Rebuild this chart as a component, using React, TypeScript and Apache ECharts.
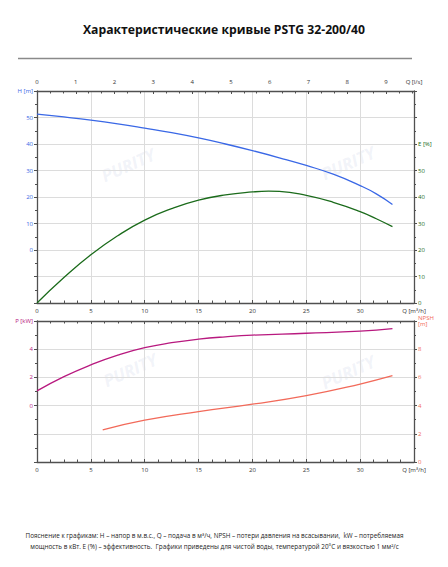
import React, { useEffect, useRef } from "react";
import * as echarts from "echarts";

const TITLE = "Характеристические кривые PSTG 32-200/40";
const NOTE_1 =
  "Пояснение к графикам: H – напор в м.в.с., Q – подача в м³/ч, NPSH – потери давления на всасывании,  kW – потребляемая";
const NOTE_2 =
  "мощность в кВт. E (%) – эффективность.  Графики приведены для чистой воды, температурой 20°C и вязкостью 1 мм²/с";

// Flow Q [m³/h] and curve values
const qHead = [0, 2.5, 5, 7.5, 10, 12.5, 15, 17.5, 20, 22.5, 25, 27.5, 30, 31.5, 33];
const headH = [51.3, 50.2, 49.0, 47.6, 46.0, 44.3, 42.3, 40.0, 37.5, 34.8, 31.9, 28.6, 24.3, 21.2, 17.2];

const qEff = [0, 2.5, 5, 7.5, 10, 12.5, 15, 17.5, 20, 21.5, 22.5, 25, 27.5, 30, 31.5, 33];
const effE = [0, 9.6, 18.2, 25.4, 31.3, 35.6, 38.8, 40.8, 41.9, 42.2, 42.1, 40.6, 38.0, 34.5, 31.8, 28.8];

const qPow = [0, 2.5, 5, 7.5, 10, 12.5, 15, 17.5, 20, 25, 30, 33];
const powP = [1.04, 2.05, 2.89, 3.58, 4.11, 4.46, 4.71, 4.88, 5.0, 5.13, 5.28, 5.46];

const qNpsh = [6.1, 10, 15, 20, 25, 30, 33];
const npshN = [2.28, 2.97, 3.58, 4.1, 4.71, 5.53, 6.12];

const Q_MAX = 35;
const LS_PER_M3H = 1 / 3.6;

const C_H = "#3a68e6";
const C_E = "#1b6b1b";
const C_P = "#b8197f";
const C_N = "#f26a5a";
const AXIS = "#505050";
const GRID = "#dcdcdc";
const FONT = "Open Sans";

export default function App() {
  const ref = useRef<HTMLDivElement>(null);
  useEffect(() => {
    const chart = echarts.init(ref.current!, null, { renderer: "svg" });
    const axisLine = { show: true, onZero: false, lineStyle: { color: AXIS, width: 1.3 } };
    const lbl = (color: string, extra: any = {}) => ({
      fontSize: 6,
      color,
      fontFamily: FONT,
      ...extra,
    });
    const qFmt = (v: number) => (v === Q_MAX ? "Q [m³/h]" : String(v));
    const xBottom = (gridIndex: number, showLabel: boolean) => ({
      type: "value",
      gridIndex,
      position: "bottom",
      min: 0,
      max: Q_MAX,
      interval: 5,
      axisLine,
      axisTick: { show: true, inside: true, length: 3, lineStyle: { color: AXIS } },
      minorTick: { show: true, splitNumber: 4, length: 2.5, lineStyle: { color: AXIS } },
      splitLine: { show: true, lineStyle: { color: GRID, width: 1 } },
      axisLabel: { show: showLabel, margin: 5, formatter: qFmt, ...lbl("#333") },
    });
    const pair = (xs: number[], ys: number[]) => xs.map((x, i) => [x, ys[i]]);
    const line = (x: number, y: number, data: number[][], color: string) => ({
      type: "line",
      xAxisIndex: x,
      yAxisIndex: y,
      data,
      smooth: 0.5,
      showSymbol: false,
      lineStyle: { color, width: 1.3 },
      silent: true,
    });
    const wm = (x: number, y: number) => ({
      type: "text",
      x,
      y,
      rotation: 0.42,
      silent: true,
      z: 0,
      style: {
        text: "PURITY",
        fontSize: 17,
        fontWeight: "bold",
        fontStyle: "italic",
        fontFamily: FONT,
        fill: "rgba(175,190,220,0.18)",
        align: "center",
        verticalAlign: "middle",
      },
    });
    chart.setOption({
      animation: false,
      title: {
        text: TITLE,
        left: "center",
        top: 18,
        textStyle: { fontSize: 12.2, fontWeight: "bold", fontFamily: FONT, color: "#111" },
      },
      grid: [
        { left: 37, right: 34, top: 91, height: 212 },
        { left: 37, right: 34, top: 321, height: 141 },
      ],
      xAxis: [
        xBottom(0, true),
        {
          type: "value",
          gridIndex: 0,
          position: "top",
          min: 0,
          max: Q_MAX * LS_PER_M3H,
          interval: 1,
          axisLine,
          axisTick: { show: true, inside: true, length: 3, lineStyle: { color: AXIS } },
          minorTick: { show: true, splitNumber: 3, length: 2.5, lineStyle: { color: AXIS } },
          splitLine: { show: false },
          axisLabel: { margin: 6, ...lbl("#333") },
          name: "Q [l/s]",
          nameLocation: "end",
          nameGap: 0,
          nameTextStyle: {
            fontSize: 6,
            color: "#333",
            fontFamily: FONT,
            align: "center",
            verticalAlign: "bottom",
            padding: [0, 0, 6, 0],
          },
        },
        xBottom(1, true),
        {
          type: "value",
          gridIndex: 1,
          position: "top",
          min: 0,
          max: Q_MAX,
          interval: 5,
          axisLine,
          axisTick: { show: true, inside: true, length: 3, lineStyle: { color: AXIS } },
          minorTick: { show: true, splitNumber: 4, length: 2.5, lineStyle: { color: AXIS } },
          splitLine: { show: false },
          axisLabel: { show: false },
        },
      ],
      yAxis: [
        {
          type: "value",
          gridIndex: 0,
          position: "left",
          min: -20,
          max: 60,
          interval: 10,
          axisLine,
          axisTick: { show: true, length: 3, lineStyle: { color: AXIS } },
          minorTick: { show: true, splitNumber: 2, length: 2, lineStyle: { color: AXIS } },
          splitLine: { show: true, lineStyle: { color: GRID, width: 1 } },
          axisLabel: {
            margin: 4,
            formatter: (v: number) => (v === 60 ? "H [m]" : v < 0 ? "" : String(v)),
            ...lbl(C_H),
          },
        },
        {
          type: "value",
          gridIndex: 0,
          position: "right",
          min: 0,
          max: 80,
          interval: 10,
          axisLine,
          axisTick: { show: true, length: 3, lineStyle: { color: AXIS } },
          minorTick: { show: true, splitNumber: 2, length: 2, lineStyle: { color: AXIS } },
          splitLine: { show: false },
          axisLabel: {
            margin: 4,
            formatter: (v: number) => (v === 60 ? "E [%]" : v > 60 ? "" : String(v)),
            ...lbl(C_E),
          },
        },
        {
          type: "value",
          gridIndex: 1,
          position: "left",
          min: -4,
          max: 6,
          interval: 2,
          axisLine,
          axisTick: { show: true, length: 3, lineStyle: { color: AXIS } },
          minorTick: { show: true, splitNumber: 2, length: 2, lineStyle: { color: AXIS } },
          splitLine: { show: true, lineStyle: { color: GRID, width: 1 } },
          axisLabel: {
            margin: 4,
            formatter: (v: number) => (v === 6 ? "P [kW]" : v < 0 ? "" : String(v)),
            ...lbl(C_P),
          },
        },
        {
          type: "value",
          gridIndex: 1,
          position: "right",
          min: 0,
          max: 10,
          interval: 2,
          axisLine,
          axisTick: { show: true, length: 3, lineStyle: { color: AXIS } },
          minorTick: { show: true, splitNumber: 2, length: 2, lineStyle: { color: AXIS } },
          splitLine: { show: false },
          axisLabel: {
            margin: 4,
            formatter: (v: number) => (v === 10 ? "NPSH\n[m]" : String(v)),
            lineHeight: 6.5,
            padding: [4, 0, 0, 0],
            ...lbl(C_N),
          },
        },
      ],
      series: [
        line(0, 0, pair(qHead, headH), C_H),
        line(0, 1, pair(qEff, effE), C_E),
        line(2, 2, pair(qPow, powP), C_P),
        line(2, 3, pair(qNpsh, npshN), C_N),
      ],
      graphic: [
        {
          type: "line",
          shape: { x1: 18, y1: 58.5, x2: 412, y2: 58.5 },
          style: { stroke: "#8a8a8a", lineWidth: 1.4 },
          silent: true,
        },
        wm(128, 165),
        wm(348, 163),
        wm(130, 370),
        wm(348, 372),
        {
          type: "text",
          x: 214.5,
          y: 535.5,
          silent: true,
          style: {
            text: NOTE_1,
            fontSize: 6.35,
            fontFamily: FONT,
            fill: "#222",
            align: "center",
            verticalAlign: "middle",
          },
        },
        {
          type: "text",
          x: 214.5,
          y: 546.5,
          silent: true,
          style: {
            text: NOTE_2,
            fontSize: 6.35,
            fontFamily: FONT,
            fill: "#222",
            align: "center",
            verticalAlign: "middle",
          },
        },
      ],
    });
    return () => chart.dispose();
  }, []);
  return (
    <div
      ref={ref}
      style={{ position: "absolute", left: 0, top: 0, width: 448, height: 567, background: "#fff" }}
    />
  );
}
